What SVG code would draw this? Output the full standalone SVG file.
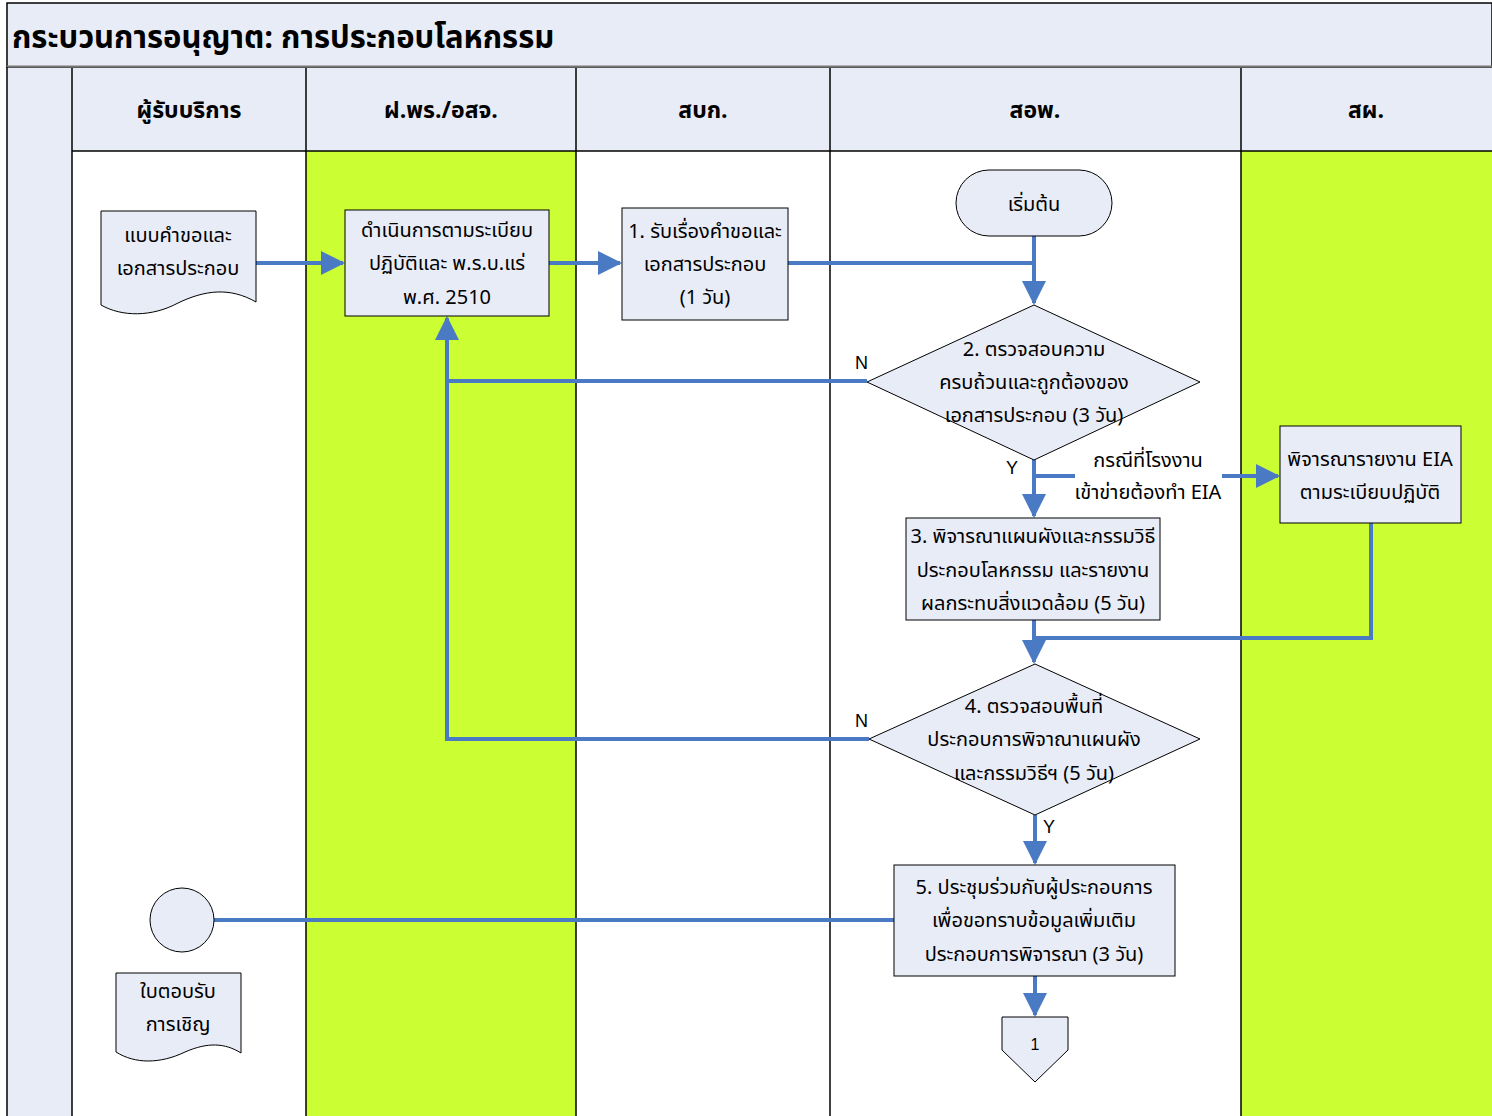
<svg xmlns="http://www.w3.org/2000/svg" width="1492" height="1116" viewBox="0 0 1492 1116">
<style>
text{font-family:Tahoma,"Noto Sans Thai","Noto Sans","DejaVu Sans","Liberation Sans",sans-serif;fill:#000}
.t{font-size:20px;text-anchor:middle}
.hd{font-size:23px;font-weight:bold;text-anchor:middle}
.shape{fill:#E8ECF7;stroke:#000;stroke-width:1}
.lane{stroke:#000;stroke-width:1.5}
.c{fill:none;stroke:#4A7AC4;stroke-width:4}
.lbl{font-size:18px;font-family:"Liberation Sans",Arial,sans-serif}
</style>
<defs>
<marker id="ah" markerWidth="6" markerHeight="6" refX="5.5" refY="3" orient="auto" markerUnits="strokeWidth">
<path d="M0,0 L6,3 L0,6 Z" fill="#4A7AC4"/>
</marker>
</defs>
<rect x="0" y="0" width="1492" height="1116" fill="#fff"/>
<g id="pool">
<rect x="7" y="3" width="1485" height="64" fill="#E8ECF7" stroke="#000" stroke-width="1.5"/>
<line x1="7" y1="66.5" x2="1492" y2="66.5" stroke="#777" stroke-width="2"/>
<text x="12" y="48" style="font-size:31px;font-weight:bold">กระบวนการอนุญาต: การประกอบโลหกรรม</text>
<rect x="7" y="68" width="65" height="1048" fill="#E8ECF7"/>
<rect x="72" y="68" width="1420" height="83" fill="#E8ECF7"/>
<rect x="306" y="151" width="270" height="965" fill="#CCFF33"/>
<rect x="1241" y="151" width="251" height="965" fill="#CCFF33"/>
<line class="lane" x1="7" y1="67" x2="7" y2="1116"/>
<line class="lane" x1="72" y1="68" x2="72" y2="1116"/>
<line class="lane" x1="306" y1="68" x2="306" y2="1116"/>
<line class="lane" x1="576" y1="68" x2="576" y2="1116"/>
<line class="lane" x1="830" y1="68" x2="830" y2="1116"/>
<line class="lane" x1="1241" y1="68" x2="1241" y2="1116"/>
<line class="lane" x1="72" y1="151" x2="1492" y2="151"/>
<text class="hd" x="189" y="118">ผู้รับบริการ</text>
<text class="hd" x="441" y="118">ฝ.พร./อสจ.</text>
<text class="hd" x="703" y="118">สบก.</text>
<text class="hd" x="1035" y="118">สอพ.</text>
<text class="hd" x="1366" y="118">สผ.</text>
</g>
<g id="connectors">
<path class="c" d="M256,263 H343" marker-end="url(#ah)"/>
<path class="c" d="M549,263 H620" marker-end="url(#ah)"/>
<path class="c" d="M788,263 H1034"/>
<path class="c" d="M1034,236 V303" marker-end="url(#ah)"/>
<path class="c" d="M867,381 H447 V318" marker-end="url(#ah)"/>
<path class="c" d="M869,739 H447 V381"/>
<path class="c" d="M1034,458 V516" marker-end="url(#ah)"/>
<path class="c" d="M1034,476 H1075"/>
<path class="c" d="M1222,476 H1278" marker-end="url(#ah)"/>
<path class="c" d="M1034,620 V662" marker-end="url(#ah)"/>
<path class="c" d="M1371,523 V638 H1034"/>
<path class="c" d="M1035,815 V863" marker-end="url(#ah)"/>
<path class="c" d="M894,920 H214"/>
<path class="c" d="M1035,976 V1015" marker-end="url(#ah)"/>
<text class="lbl" x="855" y="369">N</text>
<text class="lbl" x="855" y="727">N</text>
<text class="lbl" x="1006" y="474">Y</text>
<text class="lbl" x="1043" y="833">Y</text>
<text class="t" x="1148" y="467">กรณีที่โรงงาน</text>
<text class="t" x="1148" y="499">เข้าข่ายต้องทำ EIA</text>
</g>
<g id="doc-request">
<path class="shape" d="M101,211 H256 V302 C230,287 205,290 178,303 C152,317 122,317 101,305 Z"/>
<text class="t" x="178" y="242">แบบคำขอและ</text>
<text class="t" x="178" y="275">เอกสารประกอบ</text>
</g>
<g id="proc-regulation">
<rect class="shape" x="345" y="210" width="204" height="106"/>
<text class="t" x="447" y="237">ดำเนินการตามระเบียบ</text>
<text class="t" x="447" y="270">ปฏิบัติและ พ.ร.บ.แร่</text>
<text class="t" x="447" y="304">พ.ศ. 2510</text>
</g>
<g id="step1">
<rect class="shape" x="622" y="208" width="166" height="112"/>
<text class="t" x="705" y="238">1. รับเรื่องคำขอและ</text>
<text class="t" x="705" y="271">เอกสารประกอบ</text>
<text class="t" x="705" y="304">(1 วัน)</text>
</g>
<g id="start">
<rect class="shape" x="956" y="170" width="156" height="66" rx="33" ry="33"/>
<text class="t" x="1034" y="211">เริ่มต้น</text>
</g>
<g id="step2">
<polygon class="shape" points="1034,305 1200,382 1034,460 867,382"/>
<text class="t" x="1034" y="356">2. ตรวจสอบความ</text>
<text class="t" x="1034" y="389">ครบถ้วนและถูกต้องของ</text>
<text class="t" x="1034" y="422">เอกสารประกอบ (3 วัน)</text>
</g>
<g id="eia">
<rect class="shape" x="1280" y="426" width="181" height="97"/>
<text class="t" x="1370" y="466">พิจารณารายงาน EIA</text>
<text class="t" x="1370" y="499">ตามระเบียบปฏิบัติ</text>
</g>
<g id="step3">
<rect class="shape" x="906" y="518" width="254" height="102"/>
<text class="t" x="1033" y="543">3. พิจารณาแผนผังและกรรมวิธี</text>
<text class="t" x="1033" y="577">ประกอบโลหกรรม และรายงาน</text>
<text class="t" x="1033" y="610">ผลกระทบสิ่งแวดล้อม (5 วัน)</text>
</g>
<g id="step4">
<polygon class="shape" points="1035,664 1200,739 1035,815 869,739"/>
<text class="t" x="1034" y="713">4. ตรวจสอบพื้นที่</text>
<text class="t" x="1034" y="746">ประกอบการพิจาณาแผนผัง</text>
<text class="t" x="1034" y="780">และกรรมวิธีฯ (5 วัน)</text>
</g>
<g id="step5">
<rect class="shape" x="894" y="865" width="281" height="111"/>
<text class="t" x="1034" y="894">5. ประชุมร่วมกับผู้ประกอบการ</text>
<text class="t" x="1034" y="927">เพื่อขอทราบข้อมูลเพิ่มเติม</text>
<text class="t" x="1034" y="961">ประกอบการพิจารณา (3 วัน)</text>
</g>
<g id="offpage">
<polygon class="shape" points="1002,1017 1068,1017 1068,1050 1035,1082 1002,1050"/>
<text x="1035" y="1050" style="font-size:16px;text-anchor:middle;font-family:'Liberation Sans',Arial,sans-serif">1</text>
</g>
<g id="circle">
<circle class="shape" cx="182" cy="920" r="32"/>
</g>
<g id="doc-invite">
<path class="shape" d="M116,973 H241 V1053 C225,1043 208,1042 185,1052 C160,1064 135,1064 116,1052 Z"/>
<text class="t" x="178" y="998">ใบตอบรับ</text>
<text class="t" x="178" y="1031">การเชิญ</text>
</g>
</svg>
